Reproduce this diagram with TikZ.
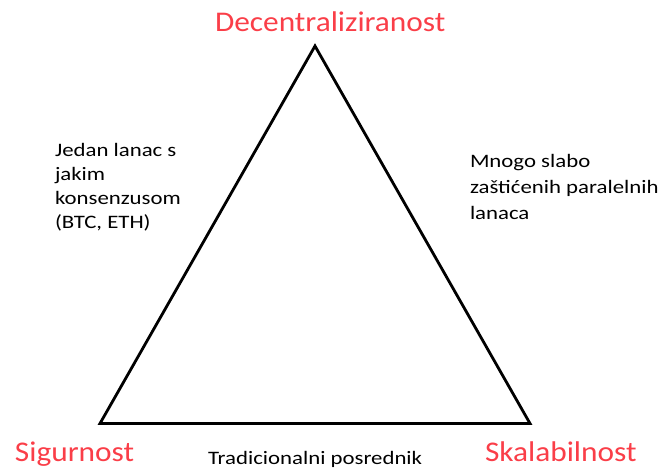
\documentclass[tikz,border=0pt]{standalone}
\usepackage{fontspec}
\setmainfont{Carlito}
\definecolor{vertexred}{RGB}{250,62,72}
\tikzset{
  corner/.style={inner sep=0pt, outer sep=0pt, anchor=base west, text=vertexred,
    font=\fontsize{28.5}{34}\selectfont},
  note/.style={inner sep=0pt, outer sep=0pt, anchor=base west, text=black},
  tri/.style={draw=black, line width=2.8pt, line join=miter}
}
\newcommand{\wide}[2]{\scalebox{#1}[1]{#2}}
\begin{document}
\begin{tikzpicture}[x=1pt,y=-1pt]
\useasboundingbox (0,0) rectangle (670,468);
\coordinate (apex) at (315,46);
\coordinate (bl) at (100,423.5);
\coordinate (br) at (530,423.5);
\draw[tri] (apex) -- (bl) -- (br) -- cycle;
\node[corner] (dec) at (215,31.7) {\wide{1.1}{Decentraliziranost}};
\node[corner] (sig) at (15,461.5) {\wide{1.1}{Sigurnost}};
\node[corner] (ska) at (485,461.5) {\wide{1.1}{Skalabilnost}};
\node[note] (trad) at (208,464.5) {\fontsize{19}{23}\selectfont\wide{1.2}{Tradicionalni posrednik}};
\node[note] (left) at (55,157) {\fontsize{19}{23.7}\selectfont\wide{1.2}{\begin{tabular}[t]{@{}l@{}}Jedan lanac s\\ jakim\\ konsenzusom\\ (BTC, ETH)\end{tabular}}};
\node[note] (right) at (470,168) {\fontsize{19}{26}\selectfont\wide{1.2}{\begin{tabular}[t]{@{}l@{}}Mnogo slabo\\ zaštićenih paralelnih\\ lanaca\end{tabular}}};
\end{tikzpicture}
\end{document}
